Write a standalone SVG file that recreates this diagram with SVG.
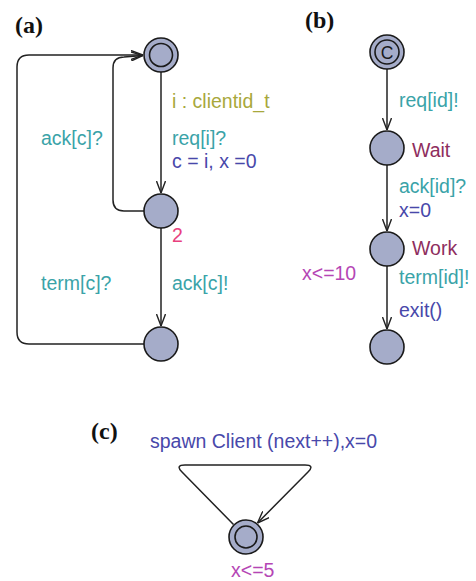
<svg xmlns="http://www.w3.org/2000/svg" width="476" height="581" viewBox="0 0 476 581">
  <style>
    .loc { fill: #a5acc9; stroke: #1a1a1a; stroke-width: 1.6; }
    .ring { fill: none; stroke: #1a1a1a; stroke-width: 1.6; }
    .edge { fill: none; stroke: #222; stroke-width: 1.5; }
    .t { font-family: "Liberation Sans", Arial, sans-serif; font-size: 19.5px; }
    .sync { fill: #3aa3a8; }
    .sel { fill: #a8a83c; }
    .upd { fill: #4848aa; }
    .inv { fill: #b546b5; }
    .name { fill: #8e2e5e; }
    .rate { fill: #e8407e; }
    .panel { font-family: "Liberation Serif", "Times New Roman", serif; font-weight: bold; font-size: 24px; fill: #111; }
  </style>
  <defs>
    <marker id="arr" viewBox="0 0 12 10" refX="12" refY="5" markerWidth="12" markerHeight="10" markerUnits="userSpaceOnUse" orient="auto">
      <path d="M0,0.5 L12,5 L0,9.5" fill="none" stroke="#222" stroke-width="1.4"/>
    </marker>
  </defs>

  <rect width="476" height="581" fill="#fff"/>

  <!-- panel captions -->
  <text class="panel" x="15" y="33">(a)</text>
  <text class="panel" x="305" y="28">(b)</text>
  <text class="panel" x="91" y="439">(c)</text>

  <!-- connectors -->
  <g id="edges">
    <!-- (a) server -->
    <path class="edge" d="M161,72 V193" marker-end="url(#arr)"/>
    <path class="edge" d="M161,228 V326" marker-end="url(#arr)"/>
    <path class="edge" d="M144,211 H124 Q113,211 113,200 V68 Q113,57 124,57 L143,55.5" marker-end="url(#arr)"/>
    <path class="edge" d="M144,344 H29 Q17,344 17,332 V67 Q17,55 29,55 H143" marker-end="url(#arr)"/>
    <!-- (b) client -->
    <path class="edge" d="M387,69 V130" marker-end="url(#arr)"/>
    <path class="edge" d="M387,165 V231" marker-end="url(#arr)"/>
    <path class="edge" d="M387,266 V329" marker-end="url(#arr)"/>
    <!-- (c) spawner self-loop -->
    <path class="edge" d="M233.5,524.5 L182,472 Q175,465 185,465 H305 Q315,465 308,472 L257.5,523" marker-end="url(#arr)"/>
  </g>

  <!-- (a) labels -->
  <g id="labels-a">
    <text class="t sel" x="172" y="108">i : clientid_t</text>
    <text class="t sync" x="172" y="145">req[i]?</text>
    <text class="t upd" x="172" y="168">c = i, x =0</text>
    <text class="t sync" x="41" y="145">ack[c]?</text>
    <text class="t rate" x="172" y="242">2</text>
    <text class="t sync" x="41" y="290">term[c]?</text>
    <text class="t sync" x="172" y="290">ack[c]!</text>
  </g>

  <!-- (a) locations -->
  <g id="a-init">
    <circle class="loc" cx="161" cy="55" r="17"/>
    <circle class="ring" cx="161" cy="55" r="11.5"/>
  </g>
  <g id="a-busy">
    <circle class="loc" cx="161" cy="211" r="17"/>
  </g>
  <g id="a-done">
    <circle class="loc" cx="161" cy="344" r="17"/>
  </g>

  <!-- (b) labels -->
  <g id="labels-b">
    <text class="t sync" x="399" y="107">req[id]!</text>
    <text class="t sync" x="399" y="193">ack[id]?</text>
    <text class="t upd" x="399" y="217">x=0</text>
    <text class="t inv" x="302" y="280">x&lt;=10</text>
    <text class="t sync" x="399" y="284">term[id]!</text>
    <text class="t upd" x="399" y="317">exit()</text>
  </g>

  <!-- (b) locations -->
  <g id="b-start">
    <circle class="loc" cx="387" cy="52" r="17"/>
    <circle class="ring" cx="387" cy="52" r="12"/>
    <text x="387" y="58.5" text-anchor="middle" font-family="'Liberation Sans', Arial, sans-serif" font-size="17.5" fill="#1a1a1a">C</text>
  </g>
  <g id="b-wait">
    <circle class="loc" cx="387" cy="148" r="17"/>
    <text class="t name" x="412" y="157">Wait</text>
  </g>
  <g id="b-work">
    <circle class="loc" cx="387" cy="249" r="17"/>
    <text class="t name" x="412" y="255">Work</text>
  </g>
  <g id="b-end">
    <circle class="loc" cx="387" cy="347" r="17"/>
  </g>

  <!-- (c) -->
  <text class="t upd" x="150" y="448">spawn Client (next++),x=0</text>
  <g id="c-gen">
    <circle class="loc" cx="246" cy="537" r="17"/>
    <circle class="ring" cx="246" cy="537" r="11"/>
    <text class="t inv" x="231" y="577">x&lt;=5</text>
  </g>
</svg>
